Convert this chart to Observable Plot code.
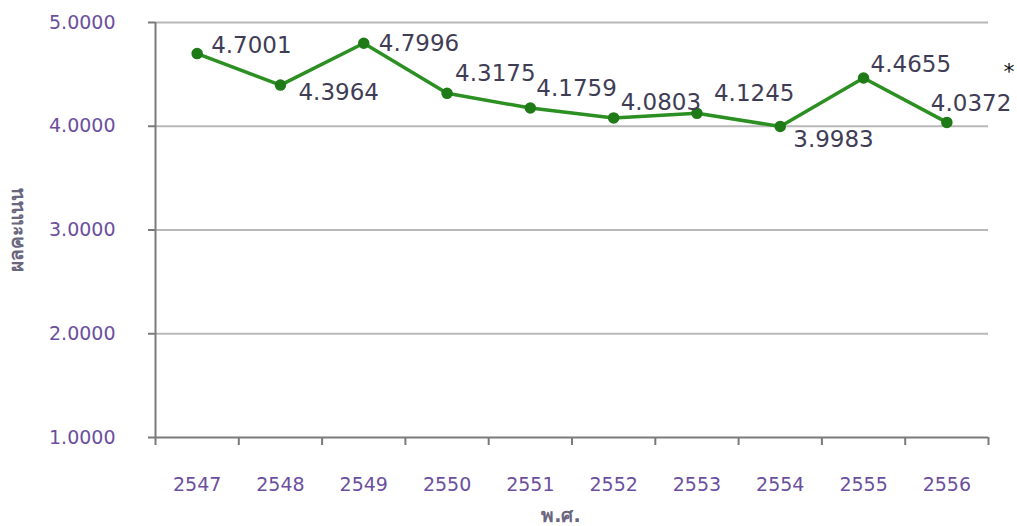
<!DOCTYPE html>
<html>
<head>
<meta charset="utf-8">
<script src="https://cdn.jsdelivr.net/npm/d3@7"></script>
<script src="https://cdn.jsdelivr.net/npm/@observablehq/plot@0.6"></script>
<style>
  html, body { margin: 0; padding: 0; background: #fff; }
  #chart svg { display: block; }
</style>
</head>
<body>
<div id="chart"></div>
<script>
const years = [2547, 2548, 2549, 2550, 2551, 2552, 2553, 2554, 2555, 2556];
const scores = [4.7001, 4.3964, 4.7996, 4.3175, 4.1759, 4.0803, 4.1245, 3.9983, 4.4655, 4.0372];
const yTicks = [1, 2, 3, 4, 5];
const yTitle = "ผลคะแนน";
const xTitle = "พ.ศ.";
const note = "*";

const data = years.map((year, i) => ({year, score: scores[i]}));
const boundaries = [years[0] - 0.5, ...years.map(y => y + 0.5)];

// label placement (styling) per year
const place = {
  2547: {dx: 14, dy: -8},
  2548: {dx: 18, dy: 8},
  2549: {dx: 15, dy: 0},
  2550: {dx: 8, dy: -20},
  2551: {dx: 6, dy: -19},
  2552: {dx: 7, dy: -15},
  2553: {dx: 17, dy: -20},
  2554: {dx: 13, dy: 13},
  2555: {dx: 7, dy: -13},
  2556: {dx: -16, dy: -19}
};
const labelMarks = years.map(yr => Plot.text(data.filter(d => d.year === yr), {
  x: "year", y: "score", text: d => d.score.toFixed(4),
  dx: place[yr].dx, dy: place[yr].dy, textAnchor: "start",
  fill: "#3f3d56", fontSize: 23, fontFamily: "DejaVu Sans"
}));

const purple = "#6b4f9e";
const chart = Plot.plot({
  width: 1017,
  height: 526,
  marginLeft: 155,
  marginRight: 29,
  marginTop: 22,
  marginBottom: 89,
  style: {fontFamily: "DejaVu Sans", background: "#fff"},
  x: {domain: [boundaries[0], boundaries[boundaries.length - 1]]},
  y: {domain: [yTicks[0], yTicks[yTicks.length - 1]]},
  marks: [
    Plot.ruleY(yTicks.slice(1), {x1: boundaries[0], x2: boundaries[boundaries.length - 1], stroke: "#b8b8b8", strokeWidth: 2}),
    Plot.ruleY([yTicks[0]], {x1: boundaries[0], x2: boundaries[boundaries.length - 1], stroke: "#7a7a7a", strokeWidth: 2}),
    Plot.ruleX([boundaries[0]], {stroke: "#7a7a7a", strokeWidth: 2}),
    Plot.axisY({ticks: yTicks, tickFormat: d => d.toFixed(4), tickSize: 7, tickPadding: 33,
      fontSize: 19, fill: purple, stroke: "#7a7a7a", strokeWidth: 2, label: null}),
    Plot.axisX({ticks: boundaries, tickSize: 8, tickFormat: () => "", stroke: "#7a7a7a", strokeWidth: 2, label: null}),
    Plot.axisX({ticks: years, tickSize: 0, tickPadding: 40, tickFormat: d => String(d),
      fontSize: 19, fill: purple, label: null}),
    Plot.line(data, {x: "year", y: "score", stroke: "#2c8f22", strokeWidth: 3.5}),
    Plot.dot(data, {x: "year", y: "score", r: 5, fill: "#1f7a18", stroke: "#1f7a18"}),
    ...labelMarks,
    Plot.text([yTitle], {frameAnchor: "left", textAnchor: "middle", rotate: -90, dx: -139,
      fontSize: 19, fontWeight: 600, fill: "#6a6680"}),
    Plot.text([xTitle], {frameAnchor: "bottom", textAnchor: "middle", dx: -11, dy: 84,
      fontSize: 19, fontWeight: 600, fill: "#6a6680"}),
    Plot.text([note], {frameAnchor: "top-right", dx: 26, dy: 41, fontSize: 22, fill: "#111"})
  ]
});
document.getElementById("chart").appendChild(chart);
</script>
</body>
</html>
